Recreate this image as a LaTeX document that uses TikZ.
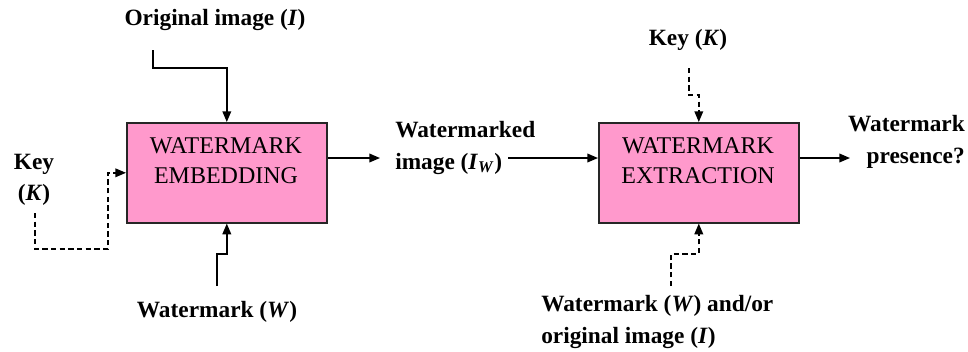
\documentclass[tikz,border=0pt]{standalone}
\usepackage{fontspec}
\setmainfont{Liberation Serif}
\usetikzlibrary{arrows.meta}
\definecolor{pinkfill}{HTML}{FF99CC}
\begin{document}
\begin{tikzpicture}[x=0.75pt,y=-0.75pt,
  blk/.style={draw=black!85, fill=pinkfill, line width=1.2pt, minimum width=150pt, minimum height=75pt, inner sep=0pt, anchor=north west},
  blktxt/.style={font=\fontsize{18}{22.5}\selectfont, align=center, inner sep=0pt, anchor=north},
  lbl/.style={font=\fontsize{17.5}{23.5}\selectfont\bfseries, inner sep=0pt},
  conn/.style={line width=1.1pt, -{Triangle[length=8pt,width=6.5pt]}},
  dsh/.style={dash pattern=on 4pt off 2.5pt}]
\useasboundingbox (0,0) rectangle (968,351);
% boxes
\node[blk] (b1) at (126,122) {};
\node[blk] (b2) at (598,122) {};
\node[blktxt] (t1) at (226,137) {WATERMARK\\EMBEDDING};
\node[blktxt] (t2) at (698,137) {WATERMARK\\EXTRACTION};
% labels
\node[lbl, anchor=base] (orig) at (215,25) {Original image (\textit{I})};
\node[lbl, align=center] (key1) at (34,180) {Key\\(\textit{K})};
\node[lbl, anchor=base] (wm1) at (217,317) {Watermark (\textit{W})};
\node[lbl, align=left, anchor=west] (wmd) at (395,148) {Watermarked\\image (\textit{I}\textsubscript{\textit{W}})};
\node[lbl, align=right, anchor=east] (pres) at (965,142) {Watermark\\presence?};
\node[lbl, anchor=base] (key2) at (688,45) {Key (\textit{K})};
\node[lbl, align=left, anchor=west] (wm2) at (541,322) {Watermark (\textit{W}) and/or\\original image (\textit{I})};
% connector ends
\coordinate (o1) at (153,50);
\coordinate (k1) at (35,213);
\coordinate (w1) at (217,286);
\coordinate (o1e) at (380,158);
\coordinate (w2s) at (508,158);
\coordinate (pe) at (850,158);
\coordinate (k2) at (689,68);
\coordinate (w3) at (671,286);
% connectors
\draw[conn] (o1) -- ++(0,18) -| (b1.north);
\draw[conn,dsh] (k1) |- (108,249) |- (b1.west);
\draw[conn] (w1) -- ++(0,-32) -| (b1.south);
\draw[conn] (b1.east |- o1e) -- (o1e);
\draw[conn] (w2s) -- (w2s -| b2.west);
\draw[conn] (pe -| b2.east) -- (pe);
\draw[conn,dsh] (k2) -- ++(0,27) -| (b2.north);
\draw[conn,dsh] (w3) -- ++(0,-32) -| (b2.south);
\end{tikzpicture}
\end{document}
